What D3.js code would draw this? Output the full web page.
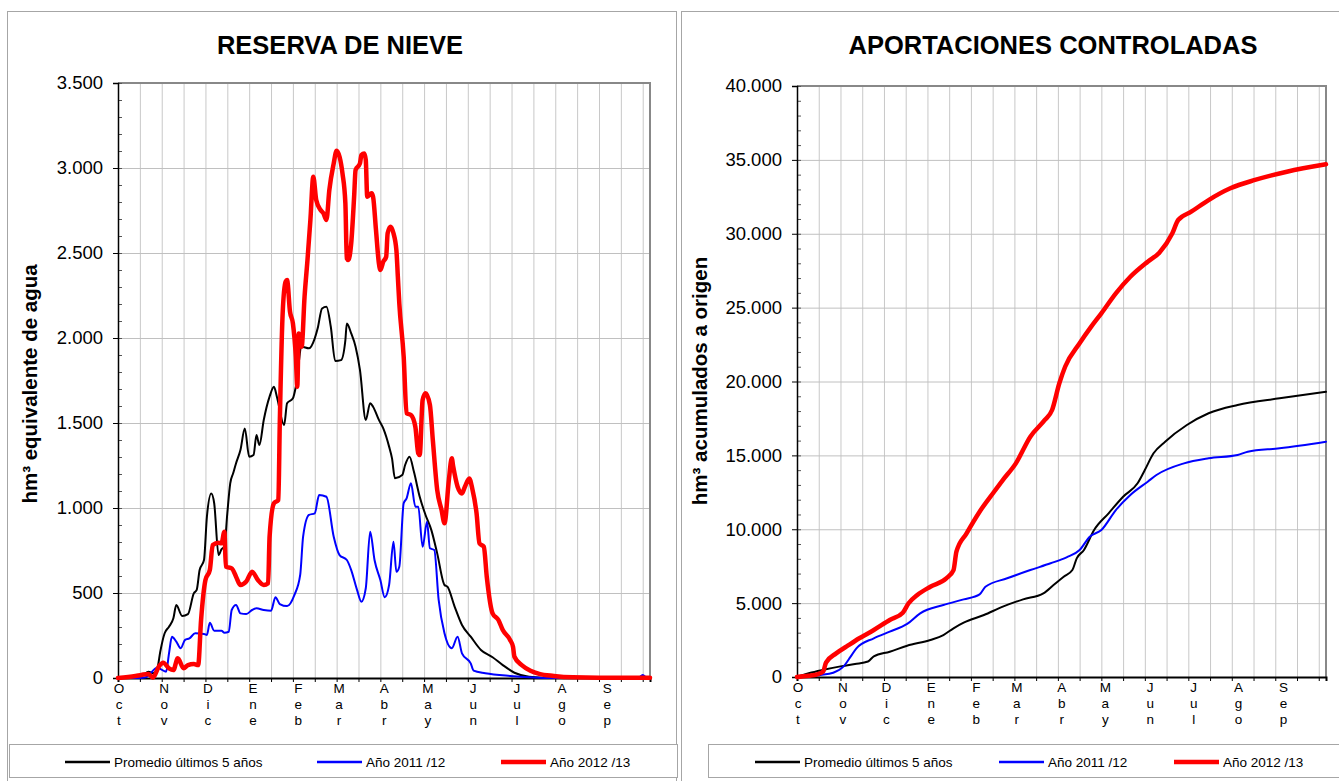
<!DOCTYPE html>
<html><head><meta charset="utf-8">
<script src="https://cdn.jsdelivr.net/npm/d3@7"></script>
<style>body{margin:0;background:#fff}svg{display:block}text{font-family:"Liberation Sans",Arial,sans-serif}</style>
</head><body><svg id="c" width="1339" height="781"></svg>
<script>
// ---------- DATA ----------
const monthLabels = ["Oct","Nov","Dic","Ene","Feb","Mar","Abr","May","Jun","Jul","Ago","Sep"];
const monthStartDays = [0,31,61,92,123,151,182,212,243,273,304,335];
const snowTicks = [0,500,1000,1500,2000,2500,3000,3500];
const flowTicks = [0,5000,10000,15000,20000,25000,30000,35000,40000];
const seriesNames = ["Promedio últimos 5 años","Año 2011 /12","Año 2012 /13"];

// Reserva de nieve (hm3), [day of hydrological year, value]
const snowAvg = [[0,0],[12,0],[17,15],[21,37],[24,28],[27,57],[29,155],[32,263],[35,302],[38,351],[40,429],[44,365],[48,376],[52,498],[54,518],[56,635],[59,694],[61,949],[64,1086],[66,1028],[69,723],[71,757],[73,772],[75,969],[77,1145],[79,1204],[81,1263],[84,1341],[87,1468],[90,1302],[93,1312],[95,1429],[97,1370],[100,1518],[104,1655],[107,1713],[109,1655],[114,1488],[116,1616],[120,1645],[122,1713],[126,1949],[131,1939],[135,1998],[137,2057],[140,2174],[143,2184],[146,2066],[149,1865],[153,1870],[156,1988],[157,2086],[160,2027],[163,1949],[166,1812],[170,1518],[173,1616],[175,1596],[179,1518],[182,1468],[186,1361],[188,1292],[190,1175],[195,1194],[197,1253],[200,1302],[203,1214],[207,1066],[211,959],[215,870],[219,733],[224,547],[226,537],[231,419],[236,312],[242,243],[249,165],[257,122],[264,76],[272,31],[282,8],[300,0],[365,0]];
const snow1112 = [[0,0],[15,0],[19,4],[27,60],[33,37],[35,145],[37,243],[40,214],[43,175],[46,224],[49,233],[53,263],[59,259],[61,253],[63,325],[66,278],[71,278],[73,266],[76,272],[78,400],[81,430],[84,380],[88,376],[92,400],[95,410],[100,400],[105,396],[108,475],[111,435],[116,423],[121,488],[125,606],[127,831],[131,959],[135,969],[138,1076],[143,1066],[148,831],[152,723],[157,694],[160,635],[164,518],[167,449],[170,528],[173,861],[176,694],[180,576],[183,475],[186,547],[189,802],[191,625],[193,655],[196,1028],[198,1057],[201,1145],[204,1008],[206,1008],[209,772],[212,919],[214,763],[217,753],[220,459],[224,263],[229,175],[233,243],[236,145],[242,86],[244,43],[252,28],[269,12],[289,2],[300,0],[357,0],[360,18],[363,0],[365,0]];
const snow1213 = [[0,0],[12,12],[16,18],[21,24],[24,2],[28,67],[31,90],[35,57],[38,47],[41,116],[45,57],[48,76],[52,82],[55,76],[57,341],[60,576],[63,635],[65,782],[69,796],[71,792],[73,861],[74,655],[78,645],[81,596],[84,547],[88,567],[92,625],[96,576],[100,547],[103,557],[104,831],[107,1028],[110,1047],[111,1500],[113,2150],[115,2331],[116,2341],[118,2155],[120,2086],[122,1890],[123,1713],[124,2027],[126,1949],[128,2243],[130,2459],[132,2694],[134,2949],[136,2812],[139,2753],[141,2733],[143,2694],[145,2870],[148,3027],[150,3102],[152,3066],[154,2969],[156,2792],[157,2468],[158,2459],[160,2557],[162,2831],[163,2988],[166,3027],[167,3076],[169,3086],[170,3047],[171,2831],[174,2851],[175,2831],[177,2635],[179,2439],[180,2400],[182,2449],[184,2478],[185,2616],[187,2655],[189,2616],[191,2517],[192,2361],[193,2204],[196,1890],[198,1557],[201,1547],[204,1478],[206,1322],[207,1312],[209,1635],[211,1675],[214,1606],[216,1400],[219,1106],[222,988],[224,910],[227,1165],[229,1292],[230,1243],[233,1125],[236,1086],[238,1125],[241,1174],[243,1116],[246,969],[248,792],[251,772],[253,596],[257,380],[261,341],[264,282],[269,224],[271,184],[272,125],[277,76],[283,43],[289,24],[299,12],[312,4],[330,2],[365,2]];

// Aportaciones controladas acumuladas (hm3)
const flowAvg = [[0,0],[10,300],[20,530],[30,720],[40,880],[49,1050],[53,1400],[64,1710],[76,2120],[92,2505],[101,2840],[108,3295],[115,3675],[129,4195],[142,4760],[156,5255],[170,5665],[177,6225],[184,6790],[190,7240],[193,8030],[198,8600],[205,9950],[215,11080],[225,12200],[235,13110],[240,14010],[246,15140],[254,15925],[269,17055],[284,17850],[304,18410],[333,18860],[365,19300]];
const flow1112 = [[0,0],[10,60],[16,135],[25,290],[32,700],[37,1375],[41,1940],[53,2620],[64,3070],[76,3590],[85,4310],[101,4870],[115,5255],[126,5595],[130,6110],[145,6680],[161,7240],[175,7695],[186,8100],[195,8595],[202,9495],[210,9950],[220,11300],[230,12320],[242,13220],[248,13670],[267,14460],[284,14800],[304,15025],[311,15250],[333,15480],[365,15925]];
const flow1213 = [[0,0],[8,80],[14,180],[18,360],[20,970],[27,1600],[34,2050],[43,2620],[53,3180],[64,3860],[73,4350],[77,4990],[83,5550],[92,6110],[103,6680],[108,7240],[110,8480],[117,9725],[126,11190],[136,12540],[142,13330],[151,14460],[161,16265],[171,17395],[176,18070],[181,19880],[185,21000],[195,22585],[203,23710],[210,24615],[220,25970],[230,27090],[242,28110],[250,28720],[259,30030],[263,30930],[272,31490],[284,32280],[299,33075],[316,33640],[338,34200],[365,34700]];

// ---------- DRAW ----------
const svg = d3.select("#c");
const loc = d3.formatLocale({decimal:",",thousands:".",grouping:[3],currency:["",""]});
const fmt = loc.format(",");
const colors = ["#000000","#0000ff","#ff0000"];

function panel(opt){
  const g = svg.append("g");
  g.append("rect").attr("x",opt.px).attr("y",11.5).attr("width",opt.pw).attr("height",800)
    .attr("fill","none").attr("stroke","#a6a6a6");
  const x = d3.scaleLinear().domain([0,365]).range([opt.x0,opt.x1]);
  const y = d3.scaleLinear().domain([0,opt.ymax]).range([opt.y0,opt.y1]);
  g.append("g").attr("transform",`translate(0,${opt.y1})`)
    .call(d3.axisBottom(x).tickValues(d3.range(15,365,15)).tickSize(opt.y0-opt.y1).tickFormat(""))
    .call(s=>{s.select(".domain").remove();s.selectAll("line").attr("stroke","#c8c8c8");});
  g.append("g").attr("transform",`translate(${opt.x0},0)`)
    .call(d3.axisRight(y).tickValues(opt.ticks.slice(1)).tickSize(opt.x1-opt.x0).tickFormat(""))
    .call(s=>{s.select(".domain").remove();s.selectAll("line").attr("stroke","#c0c0c0");});
  g.append("path").attr("d",`M${opt.x0},${opt.y1}H${opt.x1}V${opt.y0}`)
    .attr("fill","none").attr("stroke","#888").attr("stroke-width",2);
  g.append("g").attr("transform",`translate(0,${opt.y0})`)
    .call(d3.axisBottom(x).tickValues(d3.range(0,366,15)).tickSize(4).tickFormat(""))
    .call(s=>{s.select(".domain").attr("stroke","#000").attr("stroke-width",2);s.selectAll("line").attr("stroke","#000");});
  const step = opt.ticks[1]/5;
  g.append("g").attr("transform",`translate(${opt.x0},0)`)
    .call(d3.axisRight(y).tickValues(d3.range(0,opt.ymax+1,step)).tickSize(4).tickFormat(""))
    .call(s=>{s.select(".domain").remove();s.selectAll("line").attr("stroke","#555");});
  g.append("g").attr("transform",`translate(${opt.x0},0)`)
    .call(d3.axisLeft(y).tickValues(opt.ticks).tickSize(5).tickPadding(10).tickFormat(fmt))
    .call(s=>{s.select(".domain").attr("stroke","#000").attr("stroke-width",1.5);
      s.selectAll("line").attr("stroke","#000");
      s.selectAll("text").attr("font-size",18.5).attr("fill","#000").attr("font-family","Liberation Sans, Arial");});
  monthLabels.forEach((m,i)=>{
    const t = g.append("text").attr("x",x(monthStartDays[i])+1).attr("y",opt.y0+15)
      .attr("text-anchor","middle").attr("font-size",13.5).attr("fill","#000");
    m.split("").forEach((ch,j)=>t.append("tspan").attr("x",x(monthStartDays[i])+1).attr("dy",j?16:0).text(ch));
  });
  const line = d3.line().x(d=>x(d[0])).y(d=>y(d[1])).curve(d3.curveMonotoneX);
  opt.series.forEach((s,i)=>{
    g.append("path").attr("d",line(s)).attr("fill","none").attr("stroke",colors[i])
      .attr("stroke-width",i===2?4.5:2).attr("stroke-linejoin","round").attr("stroke-linecap","round");
  });
  g.append("text").attr("x",opt.tx).attr("y",54).attr("text-anchor","middle")
    .attr("font-size",25.5).attr("font-weight","bold").text(opt.title);
  g.append("text").attr("transform",`translate(${opt.ax},${opt.ay}) rotate(-90)`)
    .attr("text-anchor","middle").attr("font-size",20.5).attr("font-weight","bold").text(opt.ytitle);
  g.append("rect").attr("x",opt.lx).attr("y",744.5).attr("width",opt.lw).attr("height",33)
    .attr("fill","#fff").attr("stroke","#a6a6a6");
  opt.leg.forEach((p,i)=>{
    g.append("line").attr("x1",p[0]).attr("x2",p[0]+45).attr("y1",762).attr("y2",762)
      .attr("stroke",colors[i]).attr("stroke-width",i===2?4.5:2.5);
    g.append("text").attr("x",p[0]+49).attr("y",767).attr("font-size",13.5).text(seriesNames[i]);
  });
}

panel({px:7.5,pw:669,x0:118,x1:650,y0:678,y1:83,ymax:3500,ticks:snowTicks,
  series:[snowAvg,snow1112,snow1213],title:"RESERVA DE NIEVE",tx:340,
  ytitle:"hm³ equivalente de agua",ax:37,ay:384,lx:9.5,lw:668,leg:[[65],[317],[501]]});
panel({px:681.5,pw:670,x0:797,x1:1326,y0:677,y1:86,ymax:40000,ticks:flowTicks,
  series:[flowAvg,flow1112,flow1213],title:"APORTACIONES CONTROLADAS",tx:1053,
  ytitle:"hm³ acumulados a origen",ax:707,ay:381,lx:708.5,lw:640,leg:[[755],[999],[1174]]});
</script></body></html>
